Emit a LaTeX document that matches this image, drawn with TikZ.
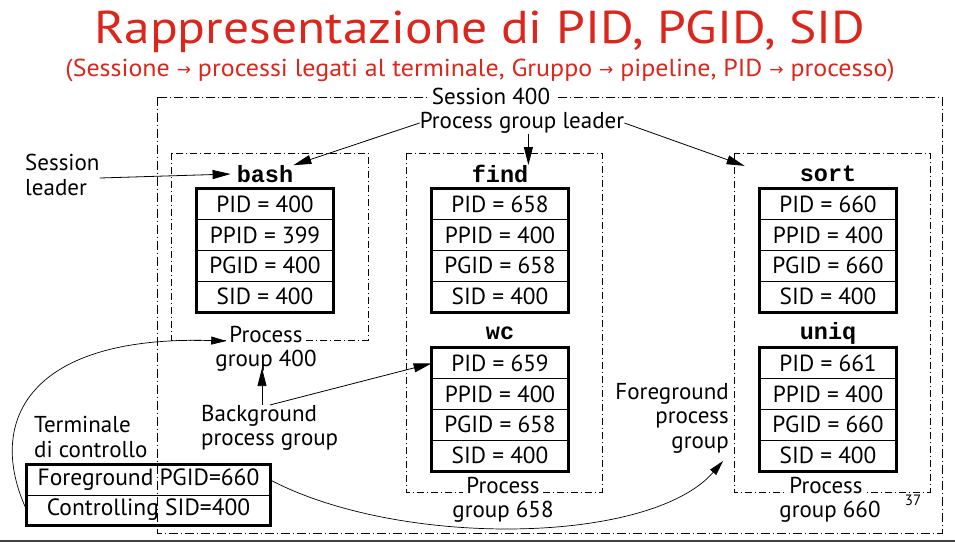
\documentclass[tikz,border=0pt]{standalone}
\usepackage{fontspec}
\setmainfont{PT Sans}
\newfontfamily\arrowfont{DejaVu Sans}
\newfontfamily\codefont{Liberation Mono}
\newfontfamily\titlefont[FakeStretch=1.12]{PT Sans}
\newfontfamily\subtitlefont[FakeStretch=1.06]{PT Sans}
\usetikzlibrary{arrows.meta}

\definecolor{titlered}{RGB}{220,38,28}

\tikzset{
  sessbox/.style={draw, line width=0.8pt, dash pattern=on 9pt off 3pt on 1pt off 3pt},
  groupbox/.style={draw, line width=0.8pt, dash pattern=on 7pt off 3pt on 1pt off 3pt},
  row/.style={draw, line width=0.8pt, minimum width=136pt, minimum height=30.7pt,
              inner sep=0pt, font=\fontsize{23.3}{24}\selectfont},
  termrow/.style={row, minimum width=243pt, minimum height=30pt, font=\fontsize{23.5}{24}\selectfont},
  frame/.style={draw, line width=2.8pt},
  pname/.style={inner sep=0pt, font=\codefont\bfseries\fontsize{23.5}{24}\selectfont},
  lbl/.style={inner sep=0pt, font=\fontsize{23}{24.5}\selectfont},
  grplbl/.style={lbl, anchor=base, fill=white, inner xsep=3pt, inner ysep=1.5pt},
  grplbltwo/.style={lbl, anchor=base},
  arr/.style={-{Triangle[length=18pt,width=9pt]}, line width=0.8pt},
  thinarr/.style={-{Triangle[length=15pt,width=8pt]}, line width=0.7pt},
}

% process table: #1 id, #2 centre x, #3 top y, #4 command, #5-#8 ids
\newcommand\proctable[8]{%
  \node[pname] (#1) at (#2,#3-15) {#4};
  \node[row] (#1-pid)  at (#2,#3+15.35) {PID = #5};
  \node[row] (#1-ppid) at (#2,#3+46.05) {PPID = #6};
  \node[row] (#1-pgid) at (#2,#3+76.75) {PGID = #7};
  \node[row] (#1-sid)  at (#2,#3+107.45) {SID = #8};
  \draw[frame] (#1-pid.north west) rectangle (#1-sid.south east);
}

\newcommand\arr{{\arrowfont\fontsize{17}{20}\selectfont\raisebox{1pt}{→}}}

\begin{document}
\begin{tikzpicture}[x=1pt, y=-1pt]
  \useasboundingbox (0,0) rectangle (955,542);

  % heading
  \node[text=titlered, inner sep=0pt, font=\titlefont\fontsize{46}{50}\selectfont]
    (title) at (480,32) {Rappresentazione di PID, PGID, SID};
  \node[text=titlered, inner sep=0pt, font=\subtitlefont\fontsize{24.5}{26}\selectfont]
    (subtitle) at (480,70) {(Sessione \arr{} processi legati al terminale, Gruppo \arr{} pipeline, PID \arr{} processo)};

  % session and process group frames
  \draw[sessbox] (157,97) rectangle (942,533);
  \draw[groupbox] (171,153) rectangle (368,340);
  \draw[groupbox] (406,153) rectangle (602,492);
  \draw[groupbox] (734,153) rectangle (930,492);

  \node[lbl, fill=white, inner xsep=5pt] (session) at (491,96) {Session 400};
  \node[lbl] (pgleader) at (522,123) {Process group leader};

  % processes
  \proctable{bash}{265}{189}{bash}{400}{399}{400}{400}
  \proctable{find}{500}{189}{find}{658}{400}{658}{400}
  \proctable{wc}{500}{348}{wc}{659}{400}{658}{400}
  \proctable{sort}{828}{189}{sort}{660}{400}{660}{400}
  \proctable{uniq}{828}{348}{uniq}{661}{400}{660}{400}

  % process group captions
  \node[grplbl] (pg400a) at (266,342) {Process};
  \node[grplbltwo] (pg400b) at (266,366) {group 400};
  \node[grplbl] (pg658a) at (503,493) {Process};
  \node[grplbltwo] (pg658b) at (503,517) {group 658};
  \node[grplbl] (pg660a) at (826,493) {Process};
  \node[grplbltwo] (pg660b) at (830,517) {group 660};

  % free labels
  \node[lbl, align=left, anchor=west] (sleader) at (25,175) {Session\\leader};
  \node[lbl, align=left, anchor=west] (bgroup) at (201,428) {Background\\process group};
  \node[lbl, align=right, anchor=east] (fgroup) at (729,418) {Foreground\\process\\group};
  \coordinate (fgtip) at (723,461);
  \node[lbl, align=left, anchor=west] (termlbl) at (34,437) {Terminale\\di controllo};
  \node[inner sep=0pt, font=\fontsize{15}{16}\selectfont] (pagenum) at (913,500) {37};

  % controlling terminal
  \node[termrow] (fgpgid) at (148.5,480) {Foreground PGID=660};
  \node[termrow] (ctlsid) at (148.5,510) {Controlling SID=400};
  \draw[frame] (fgpgid.north west) rectangle (ctlsid.south east);

  % connectors
  \draw[arr] (sleader.east |- 0,178) -- ([xshift=-6pt]bash.west);
  \draw[arr] (pgleader.west) -- (bash.north east);
  \draw[arr] (pgleader.south -| find.north east) -- (find.north east);
  \draw[arr] (pgleader.east) -- ([xshift=-55pt]sort.north west);
  \draw[arr] ([xshift=61pt]bgroup.north west) -- ([yshift=3pt]pg400b.south -| 262,0);
  \draw[arr] ([xshift=69pt]bgroup.north west) -- (wc-pid.west);
  \draw[thinarr] (ctlsid.west) .. controls (-15,420) and (30,335) .. ([yshift=-7pt]pg400a.west);
  \draw[thinarr] (fgpgid.east) .. controls (400,548) and (650,545) .. (fgtip);

  % slide footer rule
  \draw[line width=1.2pt, black!75] (0,541) -- (955,541);
\end{tikzpicture}
\end{document}
